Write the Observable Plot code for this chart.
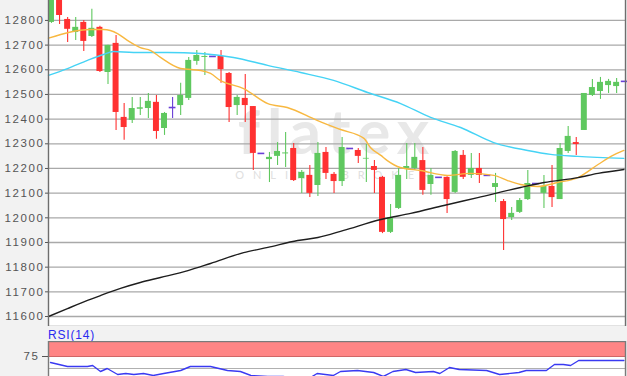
<!DOCTYPE html>
<html><head><meta charset="utf-8">
<script src="https://cdn.jsdelivr.net/npm/d3@7"></script>
<script src="https://cdn.jsdelivr.net/npm/@observablehq/plot@0.6"></script>
<style>
html,body{margin:0;padding:0;background:#f2f2f2;overflow:hidden;width:627px;height:376px;}
#wrap{position:relative;width:627px;height:376px;overflow:hidden;background:#f2f2f2;}
#main{position:absolute;left:0;top:-15px;}
#band{position:absolute;left:48px;top:326px;height:15px;font:12px "Liberation Sans",Arial,sans-serif;letter-spacing:0.8px;color:#2a2af0;line-height:15px;padding-top:2px;}
#rsi{position:absolute;left:0;top:341px;}
</style></head><body><div id="wrap"><div id="main"></div><div id="band">RSI(14)</div><div id="rsi"></div></div>
<script>
// ---- data ----
const candleOpen  = [12792,12885,12804,12751,12792,12735,12772,12589,12707,12407,12395,12440,12443,12468,12362,12447,12455,12484,12634,12650,12654,12654,12585,12455,12484,12451,12261,12236,12249,12259,12281,12159,12172,12131,12265,12176,12147,12281,12273,12238,12208,12164,11941,12038,12200,12200,12232,12135,12164,12164,12103,12253,12172,12200,12172,12123,12066,12001,12022,12074,12139,12099,12127,12074,12269,12305,12354,12496,12512,12536,12532,12553];
const candleHigh  = [12920,12900,12812,12812,12800,12845,12776,12699,12739,12463,12488,12488,12504,12496,12427,12488,12545,12650,12678,12670,12654,12678,12589,12496,12581,12451,12261,12265,12305,12346,12301,12192,12212,12305,12285,12184,12326,12281,12281,12297,12232,12168,12054,12200,12301,12301,12285,12200,12164,12166,12273,12273,12261,12261,12172,12180,12074,12042,12078,12192,12139,12172,12212,12301,12370,12326,12504,12561,12569,12561,12565,12553];
const candleLow   = [12788,12784,12711,12719,12674,12731,12589,12540,12354,12314,12382,12415,12403,12318,12334,12403,12415,12476,12618,12577,12654,12545,12386,12415,12386,12192,12261,12143,12212,12204,12147,12099,12082,12086,12155,12099,12127,12281,12220,12143,12099,11936,11936,12034,12155,12192,12091,12091,12164,12018,12099,12155,12159,12139,12172,12062,11868,11989,12018,12070,12139,12038,12042,12074,12261,12253,12354,12492,12480,12504,12504,12553];
const candleClose = [12900,12820,12764,12772,12715,12768,12593,12699,12427,12366,12443,12446,12472,12350,12423,12447,12496,12638,12658,12654,12654,12601,12447,12488,12455,12261,12261,12245,12269,12263,12151,12184,12099,12261,12180,12147,12285,12281,12249,12241,12192,11941,12001,12172,12208,12245,12111,12172,12164,12074,12269,12164,12200,12172,12172,12139,11993,12018,12070,12139,12139,12127,12082,12281,12330,12297,12504,12528,12549,12553,12549,12553];

const maShortX = [0.63,5.83,7.44,9.18,10.4,12.0,13.3,14.5,17,19.5,20.7,21.9,24.8,27.8,30.2,33.9,36.8,39.7,40.5,41.8,42.6,44.2,46.7,50.1,52.9,55.8,57.5,59.1,61.2,63.7,66.2,68.7,70.3,71.9];
const maShortY = [12728,12763,12763,12747,12719,12690,12678,12650,12605,12597,12585,12557,12524,12463,12447,12395,12358,12322,12285,12253,12232,12204,12192,12172,12180,12172,12151,12135,12127,12143,12163,12216,12249,12273];

const maMidX = [0.63,2.98,5.46,7.44,8.68,11.16,15.37,19.46,23.55,27.77,31.86,35.94,40.16,44.25,47.96,51.68,55.77,59.98,62.83,66.18,71.88];
const maMidY = [12577,12605,12638,12662,12674,12670,12670,12666,12650,12618,12589,12557,12508,12463,12407,12366,12305,12273,12257,12249,12241];

const maLongX = [0.63,2.98,5.46,7.07,9.55,12.0,14.5,17.9,20.7,24.8,27.8,31.5,34.0,37.2,41.8,45.5,49.6,53.8,59.1,62.0,66.2,68.7,71.9];
const maLongY = [11600,11632,11665,11685,11714,11738,11758,11786,11815,11859,11880,11908,11920,11949,11993,12018,12050,12082,12123,12143,12163,12180,12196];

const rsiX = [0.88,2.98,5.46,6.1,7.07,7.9,9.2,10.2,11.2,12.4,13.6,14.9,17,18.2,20.7,22.8,24.4,25.7,27.8,29.7,30.5,33.1,33.9,35.9,36.8,38.9,40.9,42.1,43.3,44.9,46.1,48.3,49.1,50.3,51.5,54.9,56.5,58.9,59.8,62.3,63.3,64.4,65.3,66.3,71.9];
const rsiY = [65,58.3,58.3,60,50,55,45,46.7,45,46.7,43.3,46.7,51.7,58.3,58.3,51.7,50,43.3,41.7,41.7,40,40,46.7,43.3,50,51.7,48.3,41.7,50,53.3,48.3,50,46.7,56.7,53.3,51.7,45,48.3,51.7,51.7,61.7,61.7,60,68.3,68.3];

const yTicks = [11600,11700,11800,11900,12000,12100,12200,12300,12400,12500,12600,12700,12800,12900];
const rsiTicks = [75];
const rsiZone = [75, 100];
const rsiGrid = [55];
const brand = "flatex";
const brandSub = "ONLINE BROKER";

// ---- build ----
const candles = candleOpen.map((o, k) => ({i: k + 1, o, h: candleHigh[k], l: candleLow[k], c: candleClose[k]}));
const col = d => d.c > d.o ? "#5fc85f" : d.c < d.o ? "#ff3131" : "#6a3fd6";
const half = 0.37;
const xDomain = [0.63, 72.1];
const pts = (xs, ys) => xs.map((x, k) => ({x, y: ys[k]}));

const main = Plot.plot({
  width: 627, height: 341,
  marginLeft: 48, marginRight: 2, marginTop: 0, marginBottom: 0,
  x: {domain: xDomain, axis: null},
  y: {domain: [11559.5, 12941.6]},
  style: {fontFamily: "'Liberation Sans', Arial, sans-serif", fontSize: "11.5px", color: "#555", background: "transparent", letterSpacing: "1.6px"},
  marks: [
    Plot.frame({fill: "white"}),
    Plot.text([brand], {frameAnchor: "top", dy: 168, lineAnchor: "bottom", fontSize: 62, fontWeight: "bold", fill: "#e8e8e8", fontFamily: "Lato"}),
    Plot.text([brandSub], {frameAnchor: "top", dy: 193, lineAnchor: "bottom", fontSize: 11, fill: "#e0e0e0", fontFamily: "Lato"}),
    Plot.ruleY(yTicks, {stroke: "#a9a9a9", strokeWidth: 1.3}),
    Plot.ruleX(candles, {x: "i", y1: "l", y2: "h", stroke: col, strokeWidth: 1.1}),
    Plot.rect(candles.filter(d => d.c !== d.o), {x1: d => d.i - half, x2: d => d.i + half, y1: "o", y2: "c", fill: col}),
    Plot.ruleY(candles.filter(d => d.c === d.o), {x1: d => d.i - half - 0.05, x2: d => d.i + half + 0.05, y: "c", stroke: col, strokeWidth: 1.6}),
    Plot.line(pts(maMidX, maMidY), {x: "x", y: "y", stroke: "#45d3f5", strokeWidth: 1.4, curve: "monotone-x"}),
    Plot.line(pts(maShortX, maShortY), {x: "x", y: "y", stroke: "#f8b840", strokeWidth: 1.4, curve: "monotone-x"}),
    Plot.line(pts(maLongX, maLongY), {x: "x", y: "y", stroke: "#1e1e1e", strokeWidth: 1.4, curve: "monotone-x"}),
    Plot.frame({stroke: "#6e6e6e", strokeWidth: 1.4}),
    Plot.axisY(yTicks, {tickSize: 3, tickPadding: 1, tickFormat: d => String(d), label: null})
  ]
});
document.getElementById("main").append(main);
d3.select(main).selectAll("text").filter(function() { return this.textContent === brand; }).style("letter-spacing", "7px");
d3.select(main).selectAll("text").filter(function() { return this.textContent === brandSub; }).style("letter-spacing", "9px");

const rsi = Plot.plot({
  width: 627, height: 60,
  marginLeft: 48, marginRight: 2, marginTop: 0, marginBottom: 0,
  x: {domain: xDomain, axis: null},
  y: {domain: [0, 100]},
  style: {fontFamily: "'Liberation Sans', Arial, sans-serif", fontSize: "11.5px", color: "#555", background: "transparent", letterSpacing: "1.6px"},
  marks: [
    Plot.frame({fill: "white"}),
    Plot.rect([rsiZone], {y1: d => d[0], y2: d => d[1], fill: "#ff8585"}),
    Plot.ruleY(rsiTicks, {stroke: "#d06666", strokeWidth: 1.2}),
    Plot.ruleY(rsiGrid, {stroke: "#b0b0b0", strokeWidth: 1.2}),
    Plot.line(pts(rsiX, rsiY), {x: "x", y: "y", stroke: "#3a3af2", strokeWidth: 1.4}),
    Plot.frame({stroke: "#7a7a7a", strokeWidth: 1.4}),
    Plot.axisY(rsiTicks, {tickSize: 6, tickPadding: 3, tickFormat: d => String(d), label: null})
  ]
});
document.getElementById("rsi").append(rsi);
</script>
</body></html>
